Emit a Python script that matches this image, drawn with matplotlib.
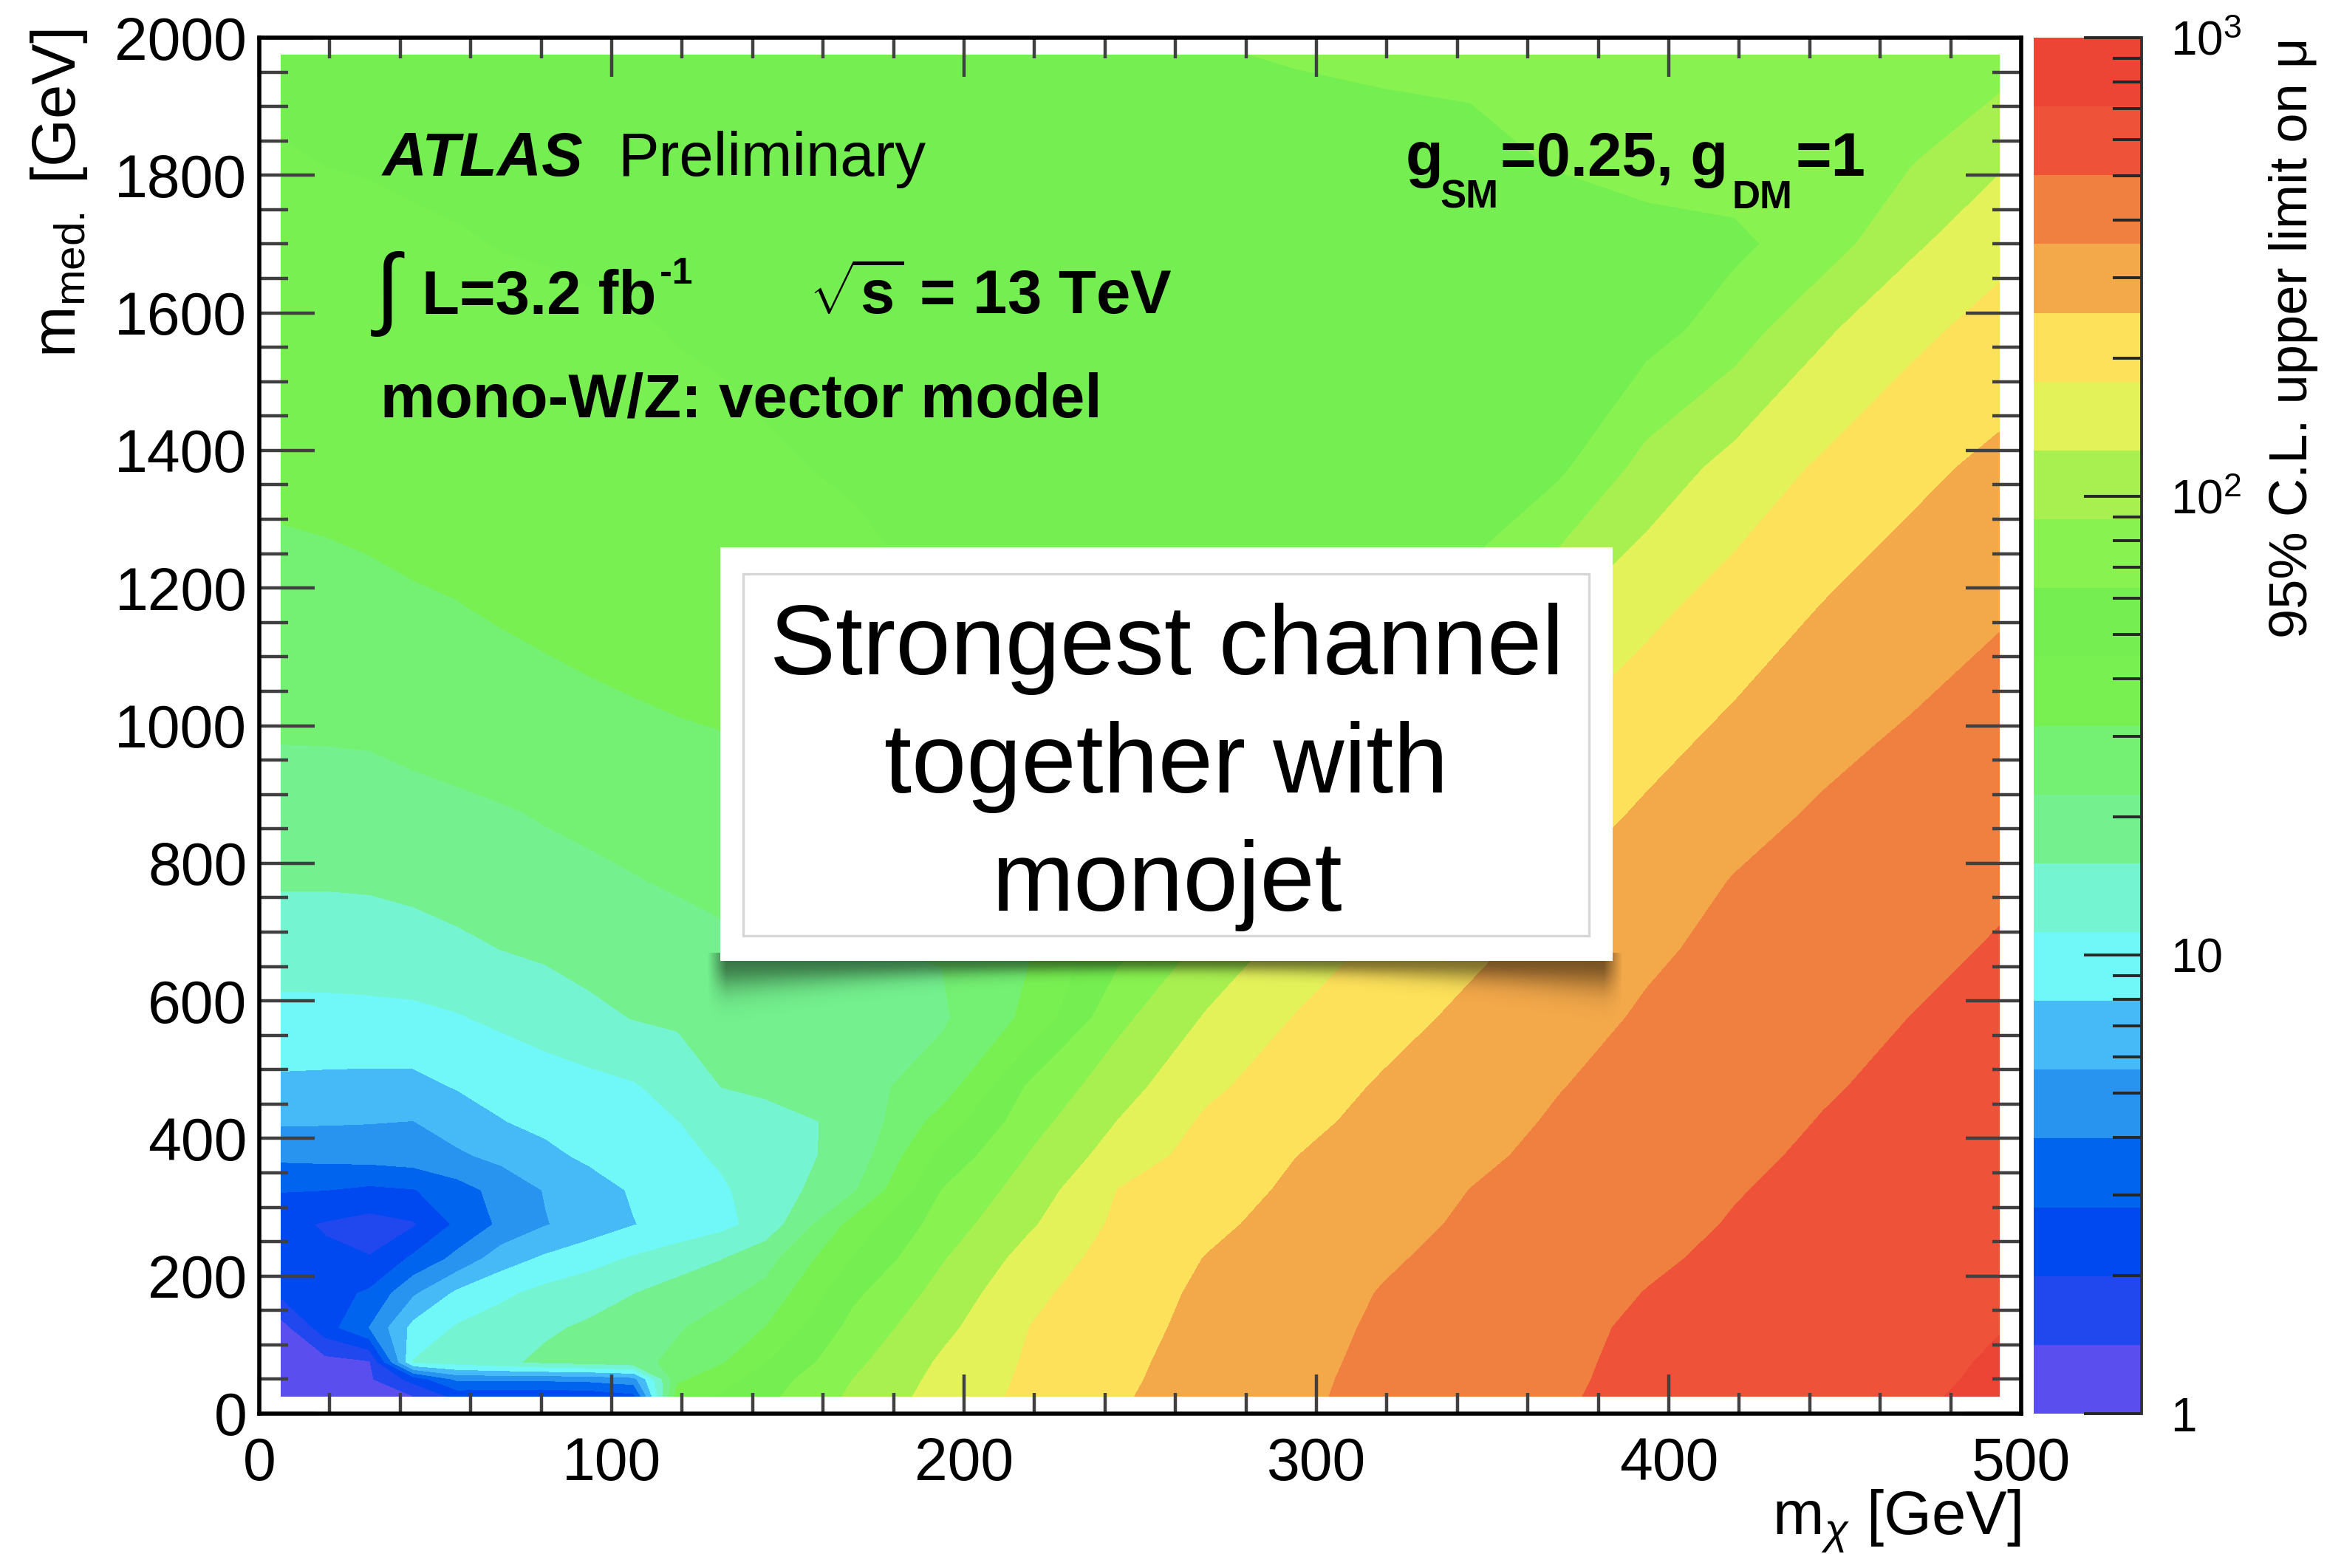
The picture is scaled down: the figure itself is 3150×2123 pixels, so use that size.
import numpy as np
import matplotlib
matplotlib.use("Agg")
import matplotlib.pyplot as plt
from matplotlib.patches import Rectangle
from matplotlib.lines import Line2D
from matplotlib.ticker import MultipleLocator, FixedLocator

plt.rcParams["font.family"] = "Liberation Sans"
plt.rcParams["mathtext.fontset"] = "custom"
plt.rcParams["mathtext.rm"] = "Liberation Sans"
plt.rcParams["mathtext.it"] = "Liberation Sans:italic"
plt.rcParams["mathtext.bf"] = "Liberation Sans:bold"

# scan grid: bin centres in m_chi and m_med [GeV]
m_chi = [6.25, 18.75, 31.25, 43.75, 56.25, 68.75, 81.25, 93.75, 106.25, 118.75,
         131.25, 143.75, 168.75, 193.75, 218.75, 243.75, 268.75, 293.75, 318.75,
         343.75, 368.75, 393.75, 418.75, 443.75, 468.75, 493.75]
m_med = [25, 50, 75, 125, 175, 225, 275, 325, 375, 425, 475, 575, 675, 775, 875,
         975, 1175, 1375, 1575, 1700, 1825, 1975]

# 95% CL upper limit on mu, as log10(mu) in units of one palette step (0.15 decades)
limit_steps = [
    [0.4, 0.5, 0.7, 0.98, 2.3, 2.2, 2.2, 2.3, 2.7, 10.6, 11.1, 11.75, 13.2, 14.4, 15.24, 15.91, 16.4, 16.85, 17.23, 17.58, 17.93, 18.19, 18.43, 18.67, 18.91, 19.15],
    [0.45, 0.6, 0.85, 2.35, 4.2, 4.2, 4.2, 4.3, 4.6, 9.8, 10.6, 11.5, 13.02, 14.28, 15.18, 15.85, 16.36, 16.82, 17.21, 17.56, 17.9, 18.17, 18.4, 18.64, 18.87, 19.1],
    [0.5, 0.65, 0.9, 7.05, 7.4, 7.8, 8.2, 8.4, 8.7, 9.25, 9.9, 10.96, 12.78, 14.14, 15.13, 15.8, 16.33, 16.78, 17.18, 17.53, 17.88, 18.15, 18.38, 18.6, 18.83, 19.07],
    [0.6, 2.55, 4.02, 6.3, 7.1, 7.5, 7.85, 8.15, 8.55, 8.9, 9.45, 10.02, 12.33, 13.74, 15.01, 15.69, 16.24, 16.7, 17.12, 17.47, 17.83, 18.11, 18.33, 18.55, 18.76, 18.98],
    [2.25, 2.6, 3.15, 4.85, 6.2, 6.8, 7.3, 7.6, 7.98, 8.4, 8.75, 9.3, 11.8, 13.35, 14.78, 15.57, 16.16, 16.61, 17.04, 17.37, 17.7, 18.02, 18.24, 18.46, 18.68, 18.9],
    [2.35, 2.2, 2.05, 3.2, 4.3, 5.55, 6.17, 6.65, 7.11, 7.54, 7.97, 8.64, 11.08, 12.92, 14.39, 15.41, 16.03, 16.46, 16.9, 17.24, 17.56, 17.89, 18.15, 18.37, 18.6, 18.82],
    [2.3, 1.9, 1.6, 1.9, 3.2, 4.2, 4.95, 5.45, 5.97, 6.35, 6.73, 7.4, 10.37, 12.47, 13.88, 15.2, 15.81, 16.3, 16.73, 17.12, 17.44, 17.76, 18.05, 18.28, 18.5, 18.73],
    [3.05, 3.01, 2.8, 2.95, 3.6, 4.35, 5.06, 5.6, 6.1, 6.5, 6.9, 7.36, 8.89, 12.02, 13.47, 15.02, 15.6, 16.14, 16.57, 17.01, 17.32, 17.64, 17.96, 18.2, 18.42, 18.65],
    [4.23, 4.3, 4.4, 4.55, 4.85, 5.27, 5.78, 6.18, 6.49, 6.8, 7.11, 7.45, 8.38, 11.3, 13.06, 14.45, 15.38, 15.98, 16.42, 16.84, 17.2, 17.53, 17.85, 18.12, 18.34, 18.57],
    [5.12, 5.1, 5.05, 4.99, 5.48, 5.97, 6.23, 6.49, 6.74, 6.99, 7.27, 7.6, 8.26, 10.4, 12.62, 14.02, 15.14, 15.75, 16.26, 16.69, 17.09, 17.41, 17.73, 18.03, 18.26, 18.49],
    [5.79, 5.75, 5.72, 5.72, 6.06, 6.27, 6.49, 6.7, 6.91, 7.38, 8.01, 8.22, 8.65, 9.48, 12.17, 13.6, 14.8, 15.52, 16.1, 16.53, 16.97, 17.3, 17.61, 17.93, 18.18, 18.4],
    [6.72, 6.73, 6.75, 6.78, 6.93, 7.19, 7.48, 7.77, 8.03, 8.15, 8.27, 8.39, 8.62, 8.87, 10.24, 12.75, 14.09, 15.03, 15.66, 16.21, 16.69, 17.1, 17.41, 17.7, 18.01, 18.23],
    [7.44, 7.45, 7.5, 7.6, 7.8, 8.01, 8.15, 8.35, 8.5, 8.65, 8.8, 8.87, 8.95, 9.05, 9.95, 11.72, 13.28, 14.42, 15.22, 15.81, 16.35, 16.87, 17.21, 17.51, 17.79, 18.07],
    [8.1, 8.1, 8.13, 8.25, 8.4, 8.55, 8.7, 8.83, 8.96, 9.1, 9.25, 9.4, 9.6, 9.95, 10.6, 11.2, 12.18, 13.66, 14.67, 15.38, 15.97, 16.53, 17.04, 17.31, 17.59, 17.86],
    [8.53, 8.55, 8.6, 8.7, 8.8, 8.93, 9.08, 9.2, 9.33, 9.45, 9.58, 9.7, 9.95, 10.3, 10.65, 11.02, 11.45, 12.66, 14.02, 14.91, 15.53, 16.12, 16.67, 17.1, 17.37, 17.63],
    [9.01, 9.02, 9.05, 9.2, 9.35, 9.5, 9.62, 9.72, 9.8, 9.88, 9.94, 9.99, 10.3, 10.6, 10.9, 11.15, 11.4, 11.75, 13.14, 14.27, 15.1, 15.7, 16.26, 16.77, 17.14, 17.4],
    [9.64, 9.7, 9.8, 9.9, 9.98, 10.1, 10.2, 10.3, 10.4, 10.5, 10.6, 10.7, 10.85, 11.02, 11.1, 11.2, 11.3, 11.4, 11.5, 12.2, 13.85, 14.74, 15.41, 16.02, 16.46, 16.9],
    [10.25, 10.3, 10.35, 10.45, 10.5, 10.6, 10.65, 10.7, 10.8, 10.85, 10.9, 10.95, 11.05, 11.1, 11.2, 11.25, 11.35, 11.4, 11.5, 11.6, 11.8, 13.35, 14.36, 15.14, 15.77, 16.22],
    [10.55, 10.6, 10.65, 10.7, 10.75, 10.8, 10.85, 10.9, 10.95, 11.02, 11.05, 11.1, 11.15, 11.2, 11.25, 11.3, 11.35, 11.4, 11.45, 11.5, 11.55, 11.6, 12.5, 13.85, 14.75, 15.37],
    [10.75, 10.8, 10.85, 10.9, 10.95, 11.02, 11.05, 11.1, 11.15, 11.2, 11.25, 11.3, 11.35, 11.4, 11.45, 11.5, 11.55, 11.6, 11.65, 11.7, 11.73, 11.76, 11.8, 12.5, 13.83, 14.7],
    [10.95, 11.02, 11.05, 11.1, 11.15, 11.2, 11.25, 11.3, 11.35, 11.4, 11.45, 11.5, 11.55, 11.6, 11.65, 11.7, 11.75, 11.8, 11.83, 11.85, 12.05, 12.25, 12.45, 12.65, 12.9, 13.83],
    [11.2, 11.25, 11.3, 11.35, 11.4, 11.45, 11.5, 11.55, 11.6, 11.65, 11.7, 11.75, 11.8, 11.86, 11.9, 11.93, 11.97, 12.03, 12.08, 12.13, 12.18, 12.24, 12.3, 12.36, 12.42, 12.5],
]

# 20-colour palette, 1 -> 1000
palette = ["#5A4EEE", "#2048EE", "#0048F0", "#0064EE", "#2894F0", "#46BAF6",
           "#70F8F8", "#74F4D0", "#74F08E", "#74F072", "#78F052", "#74EE50",
           "#88F250", "#A8F050", "#E4F25A", "#FDE15A", "#F3A84A", "#EF8040",
           "#EE5238", "#EC4536"]

W, H = 3150, 2123
fig = plt.figure(figsize=(W / 200, H / 200), dpi=200)
ax = fig.add_axes([351 / W, 209 / H, 2385 / W, 1863 / H])

log_mu = 0.15 * np.array(limit_steps)
levels = np.linspace(0, 3, 21)
cs = ax.contourf(m_chi, m_med, log_mu, levels=levels, colors=palette)

ax.set_xlim(0, 500)
ax.set_ylim(0, 2000)
ax.xaxis.set_major_locator(MultipleLocator(100))
ax.xaxis.set_minor_locator(MultipleLocator(20))
ax.yaxis.set_major_locator(MultipleLocator(200))
ax.yaxis.set_minor_locator(MultipleLocator(50))
ax.tick_params(which="both", direction="in", top=True, right=True,
               color="#404040", width=1.6, labelsize=29)
ax.tick_params(axis="x", which="major", length=19, pad=11)
ax.tick_params(axis="x", which="minor", length=10)
ax.tick_params(axis="y", which="major", length=27, pad=6)
ax.tick_params(axis="y", which="minor", length=14)
for sp in ax.spines.values():
    sp.set_linewidth(2.0)

# palette axis
cax = fig.add_axes([2753 / W, 209 / H, 146 / W, 1863 / H])
cb = fig.colorbar(cs, cax=cax)
cb.outline.set_visible(False)
cb.set_ticks([0, 1, 2, 3])
cb.set_ticklabels(["1", "10", "$10^{2}$", "$10^{3}$"])
minor = [m * 10 ** e for e in range(3) for m in range(2, 10)]
cax.yaxis.set_minor_locator(FixedLocator(np.log10(minor)))
cax.tick_params(which="both", direction="in", left=False, right=True,
                color="#262626", width=1.4, labelsize=23, pad=14)
cax.tick_params(which="major", length=28)
cax.tick_params(which="minor", length=14)
cax.add_line(Line2D([1, 1], [0, 1], transform=cax.transAxes, color="#333333",
                    lw=1.4, clip_on=False))

# overlay in pixel coordinates for labels and the caption box
ov = fig.add_axes([0, 0, 1, 1])
ov.set_xlim(0, W)
ov.set_ylim(H, 0)
ov.axis("off")

ov.text(80, 40, r"m$_{\mathrm{med.}}$ [GeV]", rotation=90, ha="center", va="top", fontsize=30)
ov.text(2736, 2060, r"m$_{\chi}$ [GeV]", ha="right", va="center", fontsize=30)
ov.text(3104, 50, "95% C.L. upper limit on μ", rotation=90, ha="center", va="top", fontsize=26)

bold = dict(fontweight="bold", va="baseline")
ov.text(518, 238, "ATLAS", fontsize=30, fontstyle="italic", **bold)
ov.text(836, 238, "Preliminary", fontsize=30, va="baseline")
ov.text(1903, 238, "g", fontsize=30, **bold)
ov.text(1949, 282, "SM", fontsize=19, **bold)
ov.text(2031, 238, "=0.25, g", fontsize=30, **bold)
ov.text(2345, 282, "DM", fontsize=19, **bold)
ov.text(2430, 238, "=1", fontsize=30, **bold)
ov.text(508, 398, "∫", fontsize=44, va="center", ha="left")
ov.text(571, 425, "L=3.2 fb", fontsize=30, **bold)
ov.text(893, 384, "-1", fontsize=18, **bold)
ov.text(1095, 425, r"$\sqrt{\mathbf{s}}$ = 13 TeV", fontsize=30, **bold)
ov.text(515, 565, "mono-W/Z: vector model", fontsize=30, **bold)

# soft drop shadow under the caption box
sx0, sx1, sy0, sy1 = 950, 2205, 1290, 1400
xx, yy = np.meshgrid(np.arange(sx0, sx1) + 0.5, np.arange(sy0, sy1) + 0.5)
xmid, half = 0.5 * (962 + 2192), 0.5 * (2192 - 962)
depth = 14 + 26 * ((xx - xmid) / half) ** 2
alpha = 0.5 * np.exp(-((np.clip(yy - 1301, 0, None)) / depth) ** 2)
alpha *= np.clip((xx - 958) / 25, 0, 1) * np.clip((2196 - xx) / 25, 0, 1)
shadow = np.zeros(xx.shape + (4,))
shadow[..., 3] = alpha
ov.imshow(shadow, extent=(sx0, sx1, sy1, sy0), aspect="auto", zorder=1,
          interpolation="bilinear")
ov.set_xlim(0, W)
ov.set_ylim(H, 0)

ov.add_patch(Rectangle((975, 741), 1208, 560, facecolor="white", edgecolor="none", zorder=2))
ov.add_patch(Rectangle((1006, 777), 1145, 490, facecolor="none", edgecolor="#d6d6d6",
                       lw=1.2, zorder=3))
for txt, yb in [("Strongest channel", 913), ("together with", 1073), ("monojet", 1233)]:
    ov.text(1579, yb, txt, ha="center", va="baseline", fontsize=48, zorder=4)

fig.savefig("out.png", dpi=200)
